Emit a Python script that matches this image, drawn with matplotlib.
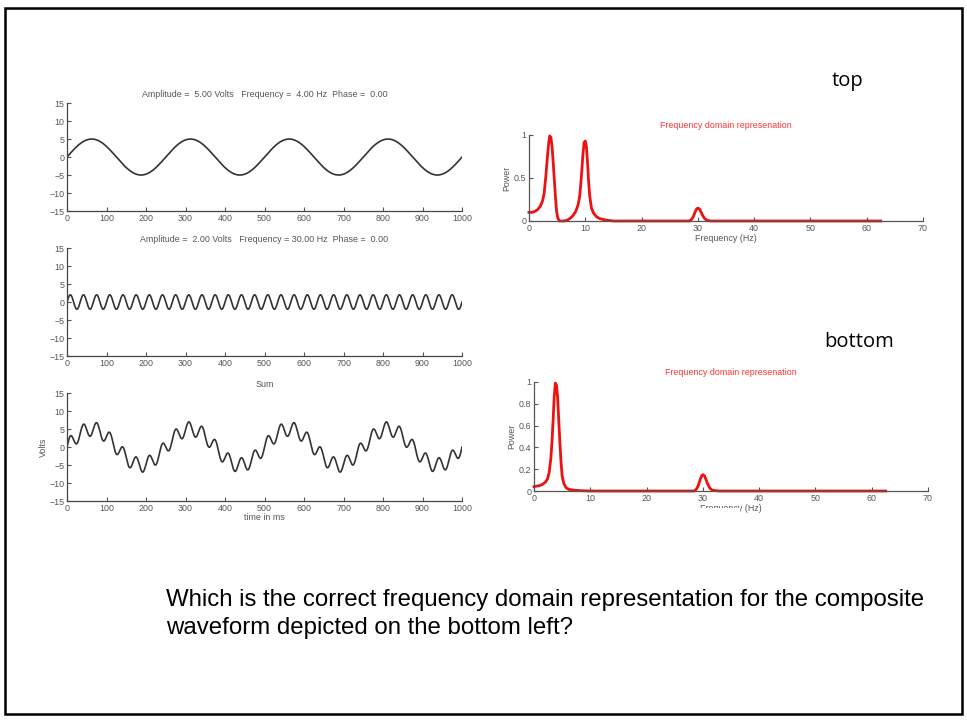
import numpy as np
import matplotlib.pyplot as plt
from matplotlib.patches import Rectangle

amplitudes = [5.0, 2.0]      # Volts
frequencias = [4.0, 30.0]    # Hz
fases = [0.0, 0.0]
titulos = ['Amplitude =  5.00 Volts   Frequency =  4.00 Hz  Phase =  0.00',
           'Amplitude =  2.00 Volts   Frequency = 30.00 Hz  Phase =  0.00',
           'Sum']

# espectro "top" (frequência em Hz, potência)
freq_top = [0, 0.5, 1, 1.5, 2, 2.4, 2.7, 3.0, 3.3, 3.5, 3.7, 3.9, 4.1, 4.3, 4.5, 4.7, 4.9, 5.1, 5.4,
            6.3, 6.8, 7.3, 7.8, 8.3, 8.7, 9.0, 9.3, 9.6, 9.8, 10.0, 10.2, 10.4, 10.6, 10.8, 11.1,
            11.5, 12, 12.5, 13, 14, 15, 28.5, 28.9, 29.2, 29.5, 29.8, 30.0, 30.3, 30.6, 30.9,
            31.2, 31.6, 32.2, 62.5]
pot_top = [0.10, 0.10, 0.11, 0.13, 0.17, 0.23, 0.32, 0.52, 0.76, 0.90, 0.99, 0.97, 0.87, 0.69, 0.49,
           0.29, 0.12, 0.04, 0.0, 0.0, 0.01, 0.03, 0.06, 0.11, 0.18, 0.28, 0.50, 0.78, 0.91, 0.93,
           0.87, 0.69, 0.46, 0.29, 0.15, 0.09, 0.05, 0.03, 0.02, 0.008, 0.0, 0.0, 0.02, 0.05,
           0.10, 0.14, 0.15, 0.14, 0.10, 0.06, 0.03, 0.01, 0.0, 0.0]

# espectro "bottom"
freq_bot = [0, 0.5, 1, 1.5, 2, 2.4, 2.7, 3.0, 3.2, 3.4, 3.6, 3.8, 4.0, 4.2, 4.4, 4.6, 4.8, 5.0, 5.3,
            5.7, 6.2, 7, 8, 9, 10, 28.5, 28.9, 29.2, 29.5, 29.8, 30.0, 30.3, 30.6, 30.9, 31.2,
            31.6, 32.2, 33, 62.5]
pot_bot = [0.04, 0.045, 0.05, 0.06, 0.08, 0.11, 0.17, 0.30, 0.45, 0.65, 0.87, 0.99, 0.97, 0.86,
           0.65, 0.45, 0.27, 0.14, 0.07, 0.03, 0.015, 0.008, 0.004, 0.002, 0.0, 0.0, 0.02, 0.05,
           0.10, 0.14, 0.15, 0.14, 0.10, 0.06, 0.03, 0.01, 0.003, 0.0, 0.0]

cor_txt = '#555555'

fig = plt.figure(figsize=(9.67, 7.21), dpi=100)
plt.rcParams['font.family'] = ['Liberation Sans', 'DejaVu Sans']

# moldura do slide
fig.patches.append(Rectangle((5 / 967, 1 - 714 / 721), 957 / 967, 706 / 721,
                             transform=fig.transFigure, fill=False, edgecolor='black', lw=1.8))

t = np.arange(0, 1000.5, 1.0)
ondas = [a * np.sin(2 * np.pi * f * t / 1000 + p) for a, f, p in zip(amplitudes, frequencias, fases)]
ondas.append(ondas[0] + ondas[1])

pos_esq = [0.8571, 0.6560, 0.4549]
for i in range(3):
    ax = fig.add_axes([0.0693, pos_esq[i] - 0.1498, 0.4085, 0.1498])
    ax.plot(t, ondas[i], color='#333333', lw=1.2)
    ax.set_xlim(0, 1000)
    ax.set_ylim(-15, 15)
    ax.set_xticks(np.arange(0, 1001, 100))
    ax.set_yticks(np.arange(-15, 16, 5))
    ax.tick_params(direction='in', length=3, labelsize=6.4, colors=cor_txt, pad=2)
    for s in ['top', 'right']:
        ax.spines[s].set_visible(False)
    for s in ['left', 'bottom']:
        ax.spines[s].set_color('#444444')
        ax.spines[s].set_linewidth(0.9)
    ax.set_title(titulos[i], fontsize=6.4, color=cor_txt, pad=4)
    if i == 2:
        ax.set_ylabel('Volts', fontsize=6.4, color=cor_txt, labelpad=1)
        ax.set_xlabel('time in ms', fontsize=6.4, color=cor_txt, labelpad=0)

# espectros
specs = [
    (freq_top, pot_top, [0.5470, 0.6935, 0.4074, 0.1193], [0, 0.5, 1], ['0', '0.5', '1']),
    (freq_bot, pot_bot, [0.5522, 0.3190, 0.4074, 0.1512], [0, 0.2, 0.4, 0.6, 0.8, 1],
     ['0', '0.2', '0.4', '0.6', '0.8', '1']),
]
for fx, py, rect, yt, ytl in specs:
    ax = fig.add_axes(rect)
    ax.plot(fx, py, color='#ee1111', lw=2.0, clip_on=False)
    ax.set_xlim(0, 70)
    ax.set_ylim(0, 1)
    ax.set_xticks(np.arange(0, 71, 10))
    ax.set_yticks(yt)
    ax.set_yticklabels(ytl)
    ax.tick_params(direction='in', length=3, labelsize=6.4, colors=cor_txt, pad=2)
    for s in ['top', 'right']:
        ax.spines[s].set_visible(False)
    for s in ['left', 'bottom']:
        ax.spines[s].set_color('#555555')
        ax.spines[s].set_linewidth(0.9)
    ax.set_title('Frequency domain represenation', fontsize=6.4, color='#ff3333', pad=5)
    ax.set_ylabel('Power', fontsize=6.4, color=cor_txt, labelpad=2)
    ax.set_xlabel('Frequency (Hz)', fontsize=6.4, color=cor_txt, labelpad=1)

# o rótulo do eixo x de baixo aparece cortado no slide
fig.patches.append(Rectangle((600 / 967, 1 - 522 / 721), 140 / 967, 14 / 721,
                             transform=fig.transFigure, facecolor='white', edgecolor='none',
                             zorder=5))

# rótulos do slide
fig.text(847 / 967, 1 - 81 / 721, 'top', fontsize=14.5, ha='center', va='center', family='Open Sans')
fig.text(859 / 967, 1 - 342 / 721, 'bottom', fontsize=14.5, ha='center', va='center', family='Open Sans')
fig.text(166 / 967, 1 - 614 / 721,
         'Which is the correct frequency domain representation for the composite\n'
         'waveform depicted on the bottom left?',
         fontsize=17.3, ha='left', va='center', linespacing=1.35)

plt.savefig('out.png', dpi=100)
plt.close()
